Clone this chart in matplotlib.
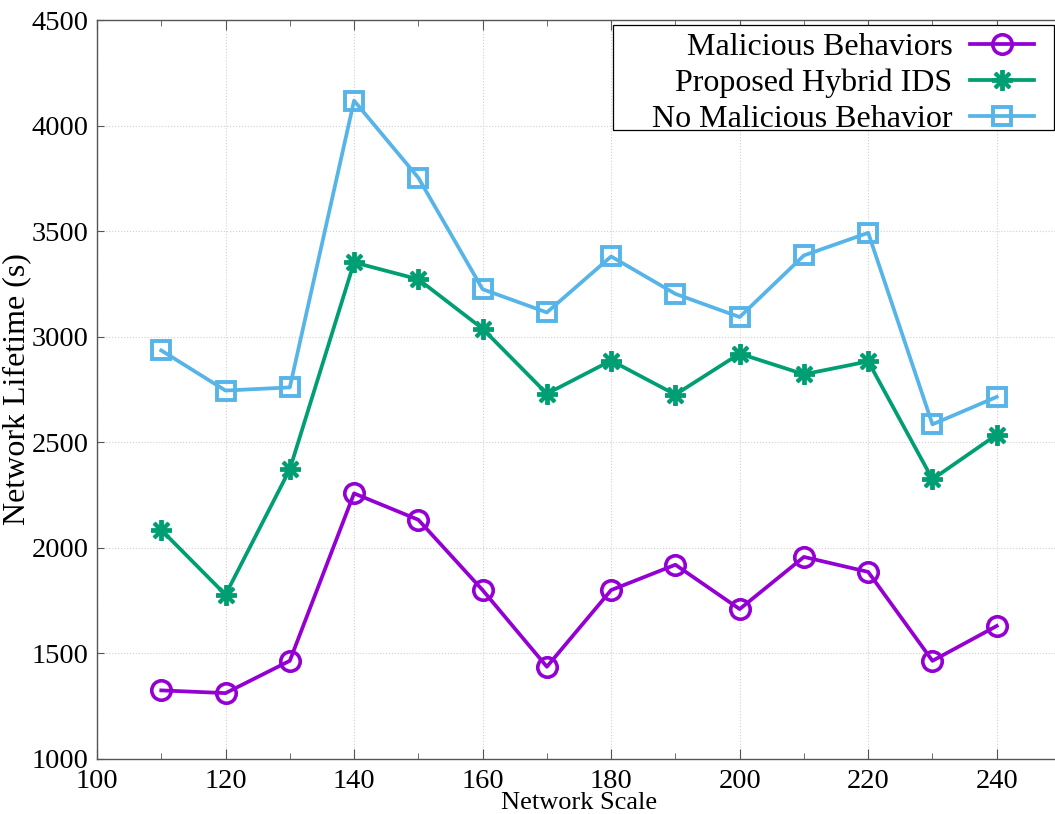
import numpy as np
import matplotlib.pyplot as plt
from matplotlib.patches import Rectangle

plt.rcParams['font.family'] = ['Liberation Serif', 'DejaVu Serif']

network_scale = [110, 120, 130, 140, 150, 160, 170, 180, 190, 200, 210, 220, 230, 240]
malicious = [1325, 1312, 1465, 2258, 2133, 1800, 1437, 1800, 1920, 1710, 1957, 1886, 1465, 1630]
hybrid_ids = [2085, 1778, 2372, 3352, 3272, 3038, 2730, 2887, 2726, 2920, 2822, 2883, 2325, 2536]
no_malicious = [2935, 2745, 2760, 4118, 3753, 3225, 3115, 3380, 3203, 3093, 3385, 3492, 2585, 2715]

W, H = 1055, 814
fig = plt.figure(figsize=(W / 100, H / 100), dpi=100)
ax = fig.add_axes([97 / W, 55 / H, (1061 - 97) / W, 739 / H])

lw = 2.7
ax.plot(network_scale, malicious, color='#9400d3', lw=lw, marker='o', ms=14,
        mfc='none', mew=2.6, label='Malicious Behaviors')
ax.plot(network_scale, hybrid_ids, color='#009e73', lw=lw, marker=(8, 2, 0), ms=15,
        mew=2.8, label='Proposed Hybrid IDS')
ax.plot(network_scale, no_malicious, color='#56b4e9', lw=lw, marker='s', ms=13.5,
        mfc='none', mew=2.8, label='No Malicious Behavior')

ax.set_xlim(100, 250)
ax.set_ylim(1000, 4500)
ax.set_xticks(np.arange(100, 241, 20))
ax.set_xticks(np.arange(110, 250, 20), minor=True)
ax.set_yticks(np.arange(1000, 4501, 500))

ax.grid(True, which='major', color='#d0d0d0', linestyle=':', linewidth=0.8)
ax.spines['right'].set_visible(False)
for s in ['left', 'bottom', 'top']:
    ax.spines[s].set_color('#555555')
    ax.spines[s].set_linewidth(1.0)

ax.tick_params(axis='both', which='both', direction='in', color='#555555', top=True)
ax.tick_params(axis='x', which='major', length=7, labelsize=20.5, pad=7)
ax.tick_params(axis='x', which='minor', length=4)
ax.tick_params(axis='y', which='major', length=5, labelsize=20.5, pad=6)

ax.set_xlabel('Network Scale', fontsize=19, labelpad=-1)
ax.set_ylabel('Network Lifetime (s)', fontsize=23, labelpad=0)

# legend frame drawn separately (wider than the entries, like the original)
frame = Rectangle((613 / W, 1 - 130 / H), (1054 - 613) / W, 105 / H,
                  transform=fig.transFigure, facecolor='white', edgecolor='black',
                  lw=0.9, zorder=4.9, clip_on=False)
ax.add_patch(frame)
leg = ax.legend(loc='upper right', bbox_to_anchor=(1034 / W, 1 - 33 / H),
                bbox_transform=fig.transFigure, markerfirst=False, fontsize=23,
                frameon=False, handlelength=2.0, handletextpad=0.55,
                labelspacing=0.2, borderpad=0, borderaxespad=0)
leg.set_zorder(5)

fig.savefig('out.png', dpi=100)
